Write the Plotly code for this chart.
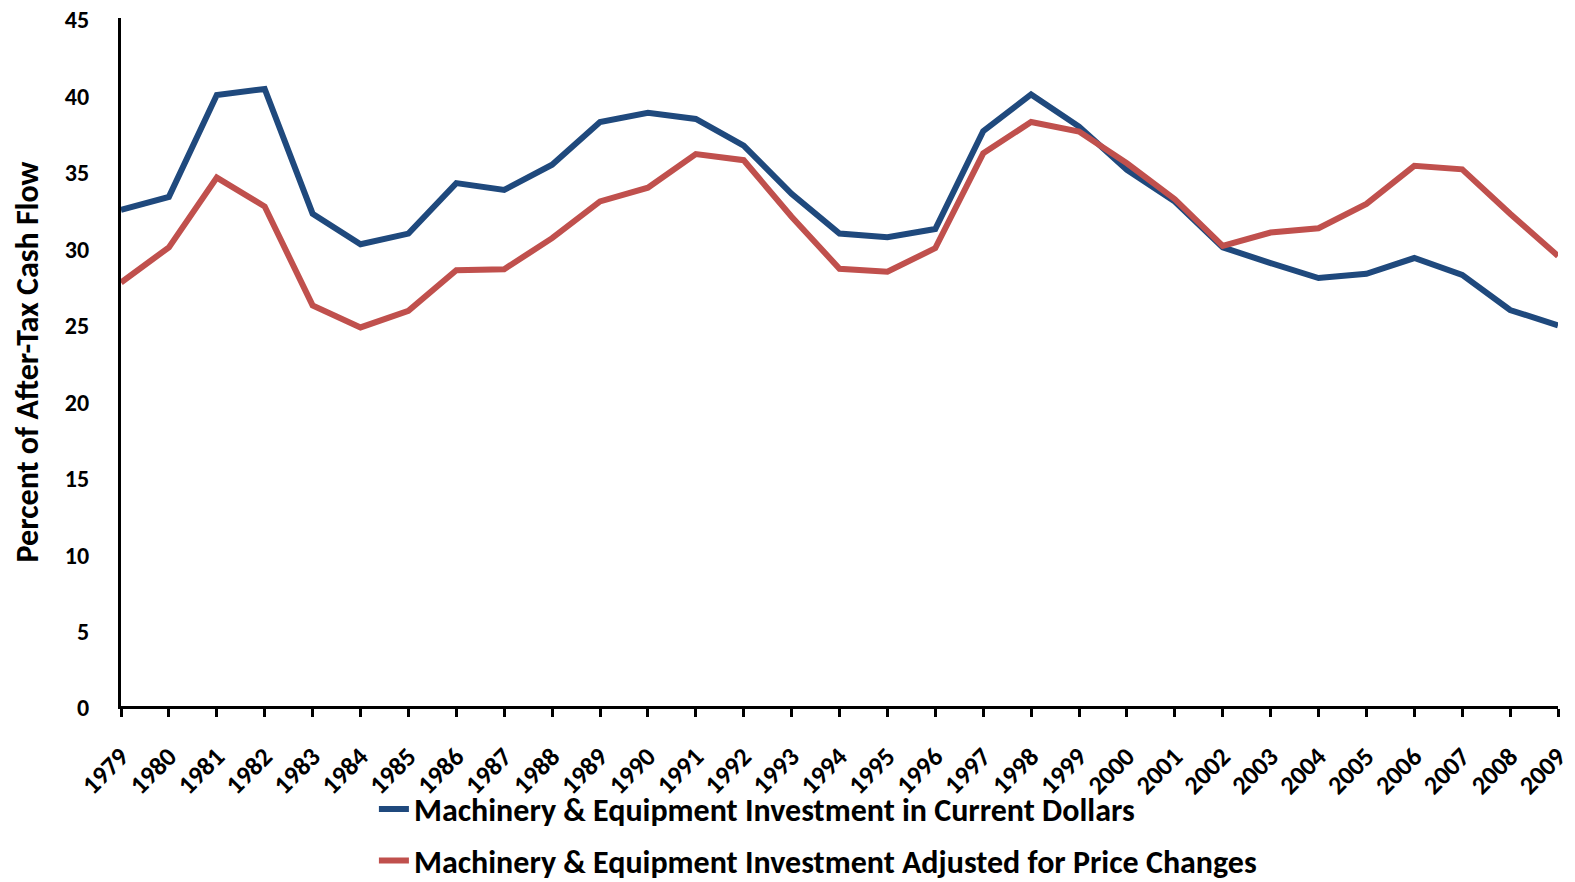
import plotly.graph_objects as go

years = list(range(1979, 2010))
current_dollars = [32.45, 33.3, 39.97, 40.36, 32.2, 30.2, 30.9, 34.2, 33.76, 35.4,
                   38.2, 38.8, 38.4, 36.65, 33.5, 30.9, 30.66, 31.2, 37.6, 40.0,
                   37.9, 35.07, 33.0, 30.0, 28.97, 27.99, 28.27, 29.3, 28.2, 25.9, 24.9]
price_adjusted = [27.7, 30.0, 34.56, 32.67, 26.2, 24.76, 25.85, 28.5, 28.57, 30.6,
                  33.0, 33.9, 36.1, 35.7, 32.0, 28.6, 28.4, 29.95, 36.15, 38.2,
                  37.57, 35.5, 33.15, 30.1, 30.97, 31.25, 32.84, 35.33, 35.1, 32.2, 29.44]
name_current = "Machinery & Equipment Investment in Current Dollars"
name_adjusted = "Machinery & Equipment Investment Adjusted for Price Changes"
y_ticks = [0, 5, 10, 15, 20, 25, 30, 35, 40, 45]

FONT = "Calibri, Carlito, Lato, sans-serif"

fig = go.Figure()
fig.add_trace(go.Scatter(x=years, y=current_dollars, mode="lines",
                         name="<b>" + name_current + "</b>", legendgroup="a",
                         line=dict(color="#1F497D", width=6)))
fig.add_trace(go.Scatter(x=years, y=price_adjusted, mode="lines",
                         name="<b>" + name_adjusted + "</b>", legendgroup="b",
                         line=dict(color="#C0504D", width=6)))

# page body has an 8px default margin, so plot margins are reduced by 8 on top/left
fig.update_layout(
    width=1575, height=882,
    margin=dict(l=113, r=25, t=10, b=184, autoexpand=False),
    paper_bgcolor="white", plot_bgcolor="white",
    font=dict(family=FONT, color="black", size=24),
    showlegend=True,
    legend=dict(orientation="v", x=0.176, y=-0.11, xanchor="left", yanchor="top",
                font=dict(family=FONT, size=32, color="black"),
                tracegroupgap=7, bgcolor="rgba(0,0,0,0)"),
    xaxis=dict(range=[1979, 2009], tickmode="array", tickvals=years,
               ticktext=["<b>%d</b>" % y for y in years], tickangle=-45,
               showline=True, linecolor="black", linewidth=3,
               ticks="outside", ticklen=8, tickwidth=3, tickcolor="black",
               showgrid=False, zeroline=False, automargin=False,
               ticklabelstandoff=14, ticklabeloverflow="allow",
               tickfont=dict(family=FONT, size=26, color="black")),
    yaxis=dict(range=[0, 45], tickmode="array", tickvals=y_ticks,
               ticktext=["<b>%d</b>" % v for v in y_ticks],
               showline=True, linecolor="black", linewidth=3,
               ticks="", showgrid=False, zeroline=False, automargin=False,
               ticklabelstandoff=24, ticklabeloverflow="allow", ticklabelshift=2,
               tickfont=dict(family=FONT, size=24, color="black"),
               title=dict(text="<b>Percent of After-Tax Cash Flow</b>",
                          font=dict(family=FONT, size=32, color="black"), standoff=21)),
)

fig.write_html("out.html")
